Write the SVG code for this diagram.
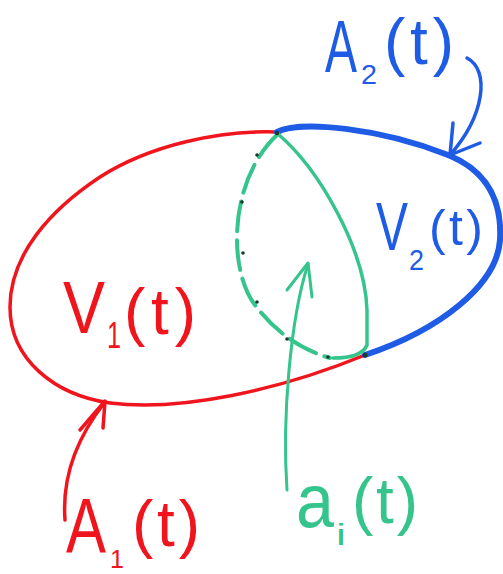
<svg xmlns="http://www.w3.org/2000/svg" width="503" height="574" viewBox="0 0 503 574">
<style>
.r{stroke:#f0141c;fill:none;stroke-linecap:round;stroke-linejoin:round}
.b{stroke:#1e5ce6;fill:none;stroke-linecap:round;stroke-linejoin:round}
.g{stroke:#35c48c;fill:none;stroke-linecap:round;stroke-linejoin:round}
.t{font-family:"Liberation Sans",Arial,sans-serif;font-weight:normal}
.tr{fill:#f0141c}.tb{fill:#1e5ce6}.tg{fill:#35c48c}
.dot{fill:#1a3a2a}
</style>
<rect width="503" height="574" fill="#ffffff"/>
<g id="V1">
<path class="r" stroke-width="3.5" d="M 277 132 C 220 130, 150 145, 100 177 C 50 210, 10 255, 10 307 C 10 360, 55 395, 110 403 C 180 412, 280 390, 365 355"/>
<text class="t tr" font-size="64"><tspan x="63" y="333" font-size="74" textLength="42" lengthAdjust="spacingAndGlyphs">V</tspan><tspan x="107" y="348" font-size="36" textLength="14" lengthAdjust="spacingAndGlyphs">1</tspan><tspan x="124" y="334" textLength="72" lengthAdjust="spacing">(t)</tspan></text>
</g>
<g id="V2">
<path class="b" stroke-width="6" d="M 277 132 C 300 120, 380 128, 448 155 C 490 172, 502 205, 500 240 C 497 285, 440 330, 365 355"/>
<text class="t tb" font-size="50"><tspan x="376" y="250" font-size="68" textLength="32" lengthAdjust="spacingAndGlyphs">V</tspan><tspan x="409" y="270" font-size="30" textLength="15" lengthAdjust="spacingAndGlyphs">2</tspan><tspan x="429" y="245" textLength="54" lengthAdjust="spacing">(t)</tspan></text>
</g>
<g id="interface">
<path class="g" stroke-width="3.5" d="M 278 134 C 320 170, 365 250, 367 310 L 367 345 Q 362 358 333 358"/>
<path class="g" stroke-width="4" stroke-dasharray="30 9" d="M 278 134 C 228 180, 228 270, 255 305 Q 285 345 330 358"/>
<circle class="dot" cx="257" cy="155" r="1.8"/>
<circle class="dot" cx="242" cy="202" r="1.8"/>
<circle class="dot" cx="243" cy="253" r="1.8"/>
<circle class="dot" cx="257" cy="302" r="1.8"/>
<circle class="dot" cx="287" cy="339" r="1.8"/>
<circle class="dot" cx="328" cy="357" r="1.8"/>
<circle class="dot" cx="277" cy="133" r="2.2"/>
<circle class="dot" cx="365" cy="355" r="2.5"/>
</g>
<g id="label-A2">
<text class="t tb" font-size="64"><tspan x="325" y="72" font-size="74" textLength="32" lengthAdjust="spacingAndGlyphs">A</tspan><tspan x="361" y="84" font-size="28" textLength="16" lengthAdjust="spacingAndGlyphs">2</tspan><tspan x="384" y="64" textLength="70" lengthAdjust="spacing">(t)</tspan></text>
</g>
<g id="label-A1">
<text class="t tr" font-size="64"><tspan x="66" y="553" font-size="78" textLength="40" lengthAdjust="spacingAndGlyphs">A</tspan><tspan x="110" y="568" font-size="26" textLength="14" lengthAdjust="spacingAndGlyphs">1</tspan><tspan x="132" y="546" textLength="68" lengthAdjust="spacing">(t)</tspan></text>
</g>
<g id="label-ai">
<text class="t tg" font-size="64"><tspan x="296" y="527" font-size="76" textLength="38" lengthAdjust="spacingAndGlyphs">a</tspan><tspan x="336" y="545" font-size="30" textLength="10" lengthAdjust="spacingAndGlyphs">i</tspan><tspan x="352" y="523" textLength="66" lengthAdjust="spacing">(t)</tspan></text>
</g>
<g id="connectors">
<path class="b" stroke-width="3.5" d="M 467 58 C 490 70, 485 115, 450 155"/>
<path class="b" stroke-width="3.5" d="M 453 123 L 450 155 L 480 143"/>
<path class="r" stroke-width="3.5" d="M 65 520 C 62 480, 75 440, 105 402"/>
<path class="r" stroke-width="3.5" d="M 80 430 L 105 401 L 103 428"/>
<path class="g" stroke-width="3" d="M 287 490 C 282 420, 290 320, 308 264"/>
<path class="g" stroke-width="3" d="M 287 290 L 308 263 L 312 297"/>
</g>
</svg>
